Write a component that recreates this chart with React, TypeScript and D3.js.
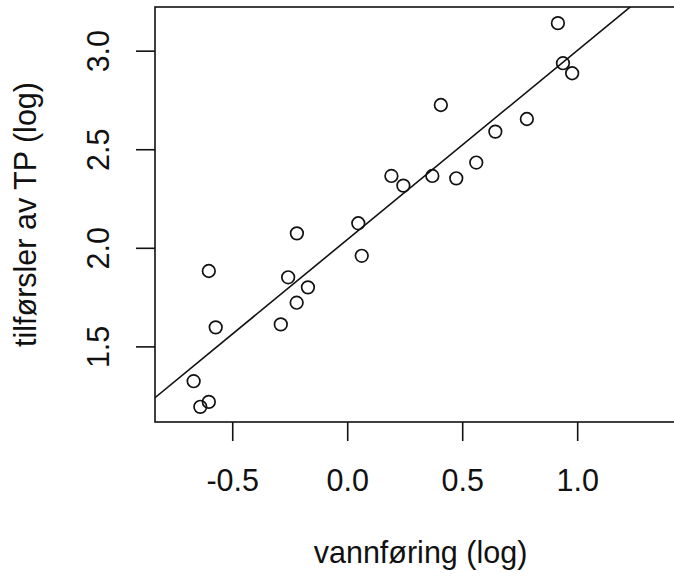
import React from 'react';
import * as d3 from 'd3';

// log vannføring vs log tilførsler TP
const flowLog = [0.914, 0.936, 0.976, 0.405, 0.779, 0.642, 0.559, 0.19, 0.242, 0.368, 0.472, 0.046, -0.221, 0.061, -0.604, -0.259, -0.173, -0.222, -0.574, -0.291, -0.67, -0.604, -0.641];
const tpLog = [3.142, 2.939, 2.888, 2.727, 2.656, 2.592, 2.435, 2.367, 2.318, 2.367, 2.355, 2.127, 2.076, 1.962, 1.885, 1.853, 1.802, 1.724, 1.599, 1.614, 1.326, 1.221, 1.196];
const xTicks = [-0.5, 0.0, 0.5, 1.0];
const yTicks = [1.5, 2.0, 2.5, 3.0];
// fitted line (intercept, slope)
const fitA = 2.046;
const fitB = 0.959;

const W = 674;
const H = 576;
const left = 155, right = 686, top = 7, bottom = 422;
const font = 'Liberation Sans, Arial, sans-serif';
const fs = 30.5;
const tickLen = 19;

export default function App() {
  const x = d3.scaleLinear().domain([-0.838, 1.471]).range([left, right]);
  const y = d3.scaleLinear().domain([1.119, 3.224]).range([bottom, top]);
  const pts = flowLog.map((v, i) => ({ x: v, y: tpLog[i] }));
  const x0 = x.domain()[0], x1 = x.domain()[1];
  const line = d3.line<number>().x(d => x(d)).y(d => y(fitA + fitB * d));

  return (
    <svg width={W} height={H} style={{ position: 'absolute', left: 0, top: 0, background: '#fff' }}>
      <defs>
        <clipPath id="plotclip">
          <rect x={left} y={top} width={right - left} height={bottom - top} />
        </clipPath>
      </defs>
      <rect x={left} y={top} width={right - left} height={bottom - top} fill="none" stroke="#111" strokeWidth={1.6} />

      {/* x axis */}
      {xTicks.map(t => (
        <g key={'x' + t}>
          <line x1={x(t)} x2={x(t)} y1={bottom} y2={bottom + tickLen} stroke="#111" strokeWidth={1.6} />
          <text x={x(t)} y={491} textAnchor="middle" fontFamily={font} fontSize={fs} fill="#111">{t.toFixed(1)}</text>
        </g>
      ))}
      <text x={(left + right) / 2} y={562.5} textAnchor="middle" fontFamily={font} fontSize={fs} fill="#111">vannføring (log)</text>

      {/* y axis */}
      {yTicks.map(t => (
        <g key={'y' + t}>
          <line x1={left - tickLen} x2={left} y1={y(t)} y2={y(t)} stroke="#111" strokeWidth={1.6} />
          <text transform={`translate(109,${y(t)}) rotate(-90)`} textAnchor="middle" fontFamily={font} fontSize={fs} fill="#111">{t.toFixed(1)}</text>
        </g>
      ))}
      <text transform={`translate(36,${(top + bottom) / 2}) rotate(-90)`} textAnchor="middle" fontFamily={font} fontSize={fs} fill="#111">tilførsler av TP (log)</text>

      <g clipPath="url(#plotclip)">
        <path d={line([x0, x1]) || ''} fill="none" stroke="#111" strokeWidth={1.6} />
      </g>
      {pts.map((p, i) => (
        <circle key={i} cx={x(p.x)} cy={y(p.y)} r={6.3} fill="none" stroke="#111" strokeWidth={1.7} />
      ))}
    </svg>
  );
}
